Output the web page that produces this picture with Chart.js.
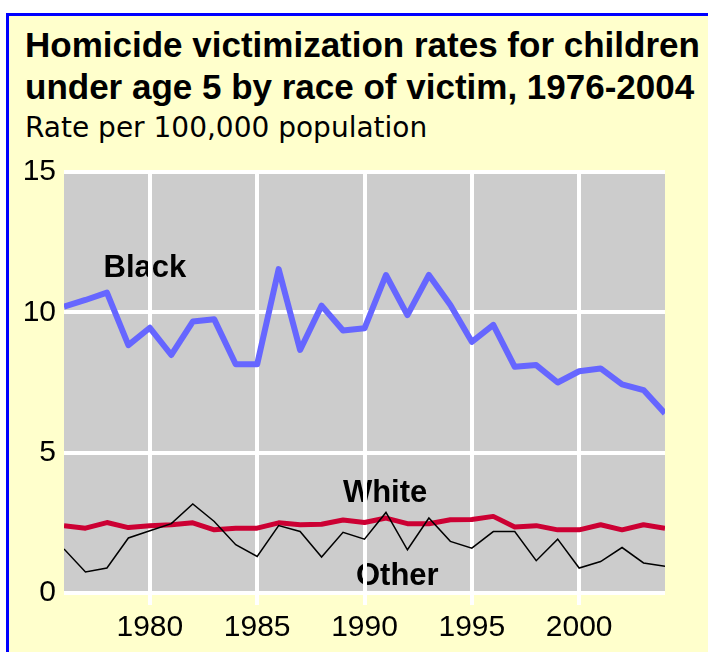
<!DOCTYPE html>
<html>
<head>
<meta charset="utf-8">
<script src="https://cdn.jsdelivr.net/npm/chart.js@4.4.1/dist/chart.umd.min.js"></script>
<style>
  html, body { margin: 0; padding: 0; background: #ffffff; width: 708px; height: 652px; overflow: hidden; }
  #frame { position: absolute; left: 6px; top: 13px; width: 702px; height: 639px;
           background: #FFFFCC; border-left: 3px solid #0000FF; border-top: 3px solid #0000FF; box-sizing: border-box; }
  .title { position: absolute; left: 25px; font-family: "Liberation Sans", Arial, sans-serif; font-weight: bold;
           font-size: 35px; line-height: 42px; color: #000; white-space: nowrap; }
  .sub { position: absolute; left: 25px; top: 111px; font-family: "DejaVu Sans", sans-serif; font-size: 28px;
         line-height: 33px; color: #000; white-space: nowrap; }
  #c { position: absolute; left: 0; top: 0; }
</style>
</head>
<body>
<div id="frame"></div>
<div class="title" style="top:24px">Homicide victimization rates for children</div>
<div class="title" style="top:66px">under age 5 by race of victim, 1976-2004</div>
<div class="sub">Rate per 100,000 population</div>
<canvas id="c" width="708" height="652" style="width:708px;height:652px"></canvas>
<script>
// ---- data ----
const years = [1976,1977,1978,1979,1980,1981,1982,1983,1984,1985,1986,1987,1988,1989,1990,
               1991,1992,1993,1994,1995,1996,1997,1998,1999,2000,2001,2002,2003,2004];
const blackRates = [10.2,10.44,10.7,8.83,9.45,8.48,9.67,9.75,8.15,8.15,11.54,8.66,10.24,9.35,9.43,
                    11.33,9.9,11.33,10.26,8.95,9.55,8.06,8.12,7.5,7.9,8.0,7.43,7.23,6.4];
const whiteRates = [2.4,2.31,2.51,2.33,2.4,2.43,2.5,2.25,2.31,2.31,2.5,2.43,2.45,2.6,2.51,
                    2.67,2.47,2.47,2.61,2.62,2.73,2.35,2.4,2.25,2.25,2.43,2.25,2.43,2.31];
const otherRates = [1.57,0.75,0.89,1.96,2.22,2.47,3.17,2.55,1.72,1.3,2.4,2.19,1.28,2.16,1.92,
                    2.87,1.54,2.67,1.84,1.6,2.19,2.19,1.15,1.92,0.89,1.12,1.62,1.07,0.95];
const xTickValues = [1980,1985,1990,1995,2000];
const yTickValues = [0,5,10,15];
const seriesNames = ["Black","White","Other"];
// label anchors in data coordinates (centre x, baseline y)
const labelAnchors = [[1979.77,11.27],[1990.96,3.26],[1991.53,0.29]];

const pts = arr => years.map((y,i) => ({x: y, y: arr[i]}));

const bgPlugin = {
  id: 'bgAndLabels',
  beforeDraw(chart) {
    const {ctx, chartArea: a, scales} = chart;
    ctx.save();
    ctx.fillStyle = '#CCCCCC';
    ctx.fillRect(a.left, a.top, a.right - a.left, a.bottom - a.top);
    ctx.fillStyle = '#000';
    ctx.font = 'bold 31px "Liberation Sans", Arial, sans-serif';
    ctx.textAlign = 'center';
    ctx.textBaseline = 'alphabetic';
    seriesNames.forEach((n, i) => {
      const px = scales.x.getPixelForValue(labelAnchors[i][0]);
      const py = scales.y.getPixelForValue(labelAnchors[i][1]);
      ctx.fillText(n, px, py);
    });
    ctx.restore();
  }
};

new Chart(document.getElementById('c'), {
  type: 'line',
  data: {
    datasets: [
      { label: seriesNames[0], data: pts(blackRates), borderColor: '#6666FF', borderWidth: 6,
        pointRadius: 0, tension: 0, borderJoinStyle: 'round', order: 3 },
      { label: seriesNames[1], data: pts(whiteRates), borderColor: '#CC0033', borderWidth: 5,
        pointRadius: 0, tension: 0, borderJoinStyle: 'round', order: 2 },
      { label: seriesNames[2], data: pts(otherRates), borderColor: '#000000', borderWidth: 1.5,
        pointRadius: 0, tension: 0, order: 1 }
    ]
  },
  options: {
    responsive: false,
    animation: false,
    devicePixelRatio: 1,
    layout: { padding: { top: 172, right: 43, left: 0, bottom: 0 } },
    plugins: { legend: { display: false }, tooltip: { enabled: false } },
    scales: {
      x: {
        type: 'linear', min: 1976, max: 2004,
        afterBuildTicks: s => { s.ticks = xTickValues.map(v => ({value: v})); },
        afterFit: s => { s.height = 59; },
        grid: { color: '#FFFFFF', lineWidth: 4, tickLength: 12, drawTicks: true },
        border: { display: false },
        ticks: { color: '#000', padding: 5, maxRotation: 0,
                 font: { family: '"Liberation Sans", Arial, sans-serif', size: 30 },
                 callback: v => String(v) }
      },
      y: {
        min: 0, max: 15,
        afterBuildTicks: s => { s.ticks = yTickValues.map(v => ({value: v})); },
        afterFit: s => { s.width = 64; },
        grid: { color: '#FFFFFF', lineWidth: 4, drawTicks: false },
        border: { display: false },
        ticks: { color: '#000', padding: 8,
                 font: { family: '"Liberation Sans", Arial, sans-serif', size: 30 } }
      }
    }
  },
  plugins: [bgPlugin]
});
</script>
</body>
</html>
